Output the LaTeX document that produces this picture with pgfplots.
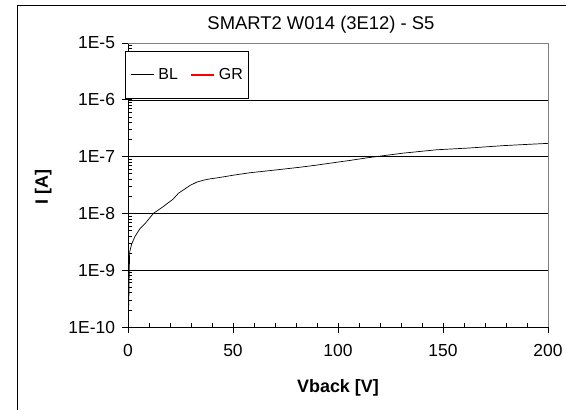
\documentclass[border=0pt]{standalone}
\usepackage{fontspec}
\setmainfont{Liberation Sans}
\usepackage{pgfplots}
\pgfplotsset{compat=1.18}
\pgfplotsset{
  legend image code/.code={\draw[#1] (0bp,0bp) -- (23bp,0bp);},
}

\begin{document}
\begin{tikzpicture}
  \useasboundingbox (0,0) rectangle (566bp,410bp);
  \clip (0,0) rectangle (566bp,410bp);
  \fill[white] (0,0) rectangle (566bp,410bp);
  % outer chart frame (runs off the right and bottom edges)
  \draw[black, line width=0.9bp] (17bp,-20bp) rectangle (600bp,405bp);
  \begin{axis}[
      at={(128bp,83bp)}, anchor=south west,
      scale only axis,
      width=420bp, height=284bp,
      ymode=log,
      xmin=0, xmax=200,
      ymin=1e-10, ymax=1e-5,
      axis x line*=bottom, axis y line*=left,
      axis line style={black, line width=0.8bp},
      xtick={0,50,100,150,200},
      xticklabels={0,50,100,150,200},
      minor x tick num=4,
      ytick={1e-10,1e-9,1e-8,1e-7,1e-6,1e-5},
      yticklabels={1E-10,1E-9,1E-8,1E-7,1E-6,1E-5},
      tick align=inside,
      major tick length=10bp,
      minor tick length=4bp,
      major x tick style={yshift=-6bp},
      major y tick style={xshift=-6bp},
      tick style={black, line width=0.7bp},
      ymajorgrids=true,
      major grid style={black, line width=0.6bp},
      tick label style={font=\fontsize{17.5}{20}\selectfont},
      xticklabel style={yshift=-14bp},
      yticklabel style={xshift=-9.5bp},
      every axis title shift=0pt,
      title={SMART2 W014 (3E12) - S5},
      title style={font=\fontsize{18.5}{21}\selectfont,
        at={(axis description cs:0.4595,1.0634)}, anchor=center},
      xlabel={Vback [V]},
      ylabel={I [A]},
      label style={font=\fontsize{18}{21}\selectfont\bfseries},
      xlabel style={at={(axis description cs:0.5,-0.2148)}, anchor=center},
      ylabel style={at={(axis description cs:-0.202,0.493)}, anchor=center},
      legend columns=2,
      legend style={
        at={(axis description cs:-0.00714,0.9718)}, anchor=north west,
        draw=black, fill=white,
        inner xsep=5.5bp, inner ysep=9bp,
        font=\fontsize{16}{18}\selectfont,
        nodes={inner xsep=0pt, inner ysep=8bp},
        /tikz/every odd column/.append style={column sep=4bp},
        /tikz/every even column/.append style={column sep=12bp},
      },
      after end axis/.code={
        \draw[gray, line width=0.9bp] (rel axis cs:0,1) -- (rel axis cs:1,1) -- (rel axis cs:1,0);
      },
    ]
    \addplot[draw=black, line width=0.7bp] coordinates {
      (0,1e-10) (0.4,3e-10) (0.6,1e-9) (0.8,2.1e-9) (1.75,2.9e-9)
      (3.3,3.9e-9) (5.7,5.4e-9) (8.1,6.6e-9) (12.1,1.0e-8) (16.8,1.32e-8)
      (21.6,1.8e-8) (24,2.26e-8) (29.5,3.1e-8) (32.7,3.55e-8) (36,3.85e-8)
      (39,4.05e-8) (43.8,4.3e-8) (50,4.7e-8) (58.1,5.2e-8) (70,5.8e-8)
      (81.9,6.5e-8) (90,7.1e-8) (97.8,7.8e-8) (106,8.6e-8) (113.7,9.5e-8)
      (120,1.02e-7) (131,1.15e-7) (147,1.32e-7) (162.9,1.42e-7)
      (178.7,1.56e-7) (190,1.64e-7) (200,1.71e-7)
    };
    \addlegendentry{BL}
    \addlegendimage{draw=red, line width=2bp}
    \addlegendentry{GR}
  \end{axis}
\end{tikzpicture}
\end{document}
